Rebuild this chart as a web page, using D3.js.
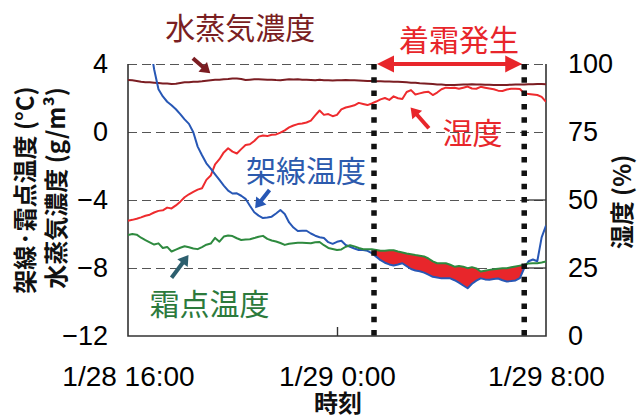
<!DOCTYPE html>
<html><head><meta charset="utf-8">
<script src="https://cdn.jsdelivr.net/npm/d3@7"></script>
<style>
body{margin:0;background:#fff;}
svg{display:block;}
</style></head><body>
<svg id="chart" width="638" height="420"></svg>
<script>
// Observation window: 1/28 16:00 to 1/29 8:00, sampled every 10 minutes
const startTime = new Date(2021, 0, 28, 16, 0);
const endTime = new Date(2021, 0, 29, 8, 0);
const times = d3.timeMinute.every(10).range(startTime, d3.timeMinute.offset(endTime, 1));

// Frost accretion period
const frostStart = new Date(2021, 0, 29, 1, 25);
const frostEnd = new Date(2021, 0, 29, 7, 10);

// Overhead wire temperature (°C)
const wireTemp = [
  9.0, 8.4, 7.8, 7.0, 6.2, 5.3, 3.69, 2.51, 2.09, 1.78,
  1.57, 1.34, 1.05, 0.74, 0.48, -0.01, -0.86, -1.37, -1.84, -2.15,
  -2.49, -2.82, -3.15, -3.45, -3.62, -3.61, -3.75, -3.93, -4.34, -4.72,
  -4.92, -5.06, -5.03, -4.98, -4.79, -4.59, -4.82, -5.32, -5.62, -5.82,
  -5.81, -5.81, -5.97, -6.10, -6.19, -6.24, -6.48, -6.58, -6.46, -6.40,
  -6.65, -6.75, -6.85, -6.94, -6.94, -6.99, -7.12, -7.33, -7.54, -7.69,
  -7.79, -7.85, -7.79, -7.72, -7.89, -8.06, -8.15, -8.19, -8.27, -8.39,
  -8.52, -8.56, -8.61, -8.61, -8.61, -8.72, -8.86, -9.03, -9.19, -8.93,
  -8.74, -8.61, -8.67, -8.69, -8.65, -8.62, -8.72, -8.79, -8.77, -8.73,
  -8.59, -8.0, -7.6, -7.5, -7.6, -6.2, -5.5
];

// Frost point temperature (°C)
const frostPoint = [
  -6.06, -6.00, -6.04, -6.22, -6.36, -6.49, -6.62, -6.55, -6.82, -6.76,
  -7.03, -6.92, -6.81, -6.72, -6.78, -6.85, -6.89, -6.77, -6.63, -6.56,
  -6.23, -6.45, -6.15, -6.09, -6.12, -6.25, -6.35, -6.33, -6.31, -6.24,
  -6.16, -6.11, -6.29, -6.38, -6.44, -6.53, -6.64, -6.57, -6.54, -6.52,
  -6.52, -6.53, -6.54, -6.49, -6.47, -6.66, -6.82, -6.88, -6.94, -6.91,
  -6.75, -6.66, -6.73, -6.82, -6.90, -6.90, -6.90, -6.94, -6.98, -6.99,
  -6.96, -6.96, -7.03, -7.09, -7.15, -7.19, -7.24, -7.28, -7.32, -7.44,
  -7.61, -7.72, -7.72, -7.72, -7.81, -7.92, -7.88, -7.92, -8.01, -7.95,
  -8.02, -8.21, -8.16, -8.11, -8.08, -8.04, -8.02, -8.02, -7.96, -7.91,
  -7.86, -7.81, -7.73, -7.72, -7.72, -7.68, -7.62
];

// Relative humidity (%)
const humidity = [
  42.4, 42.7, 43.1, 43.6, 44.2, 44.6, 45.4, 46.0, 46.2, 47.2,
  46.9, 48.0, 49.4, 51.0, 52.1, 53.0, 53.8, 54.3, 57.4, 59.0,
  63.1, 65.0, 67.5, 69.0, 67.8, 67.1, 68.7, 70.2, 70.5, 71.7,
  73.3, 73.7, 73.5, 74.0, 74.1, 74.8, 75.6, 76.7, 77.4, 77.9,
  78.1, 78.5, 79.2, 81.1, 82.9, 81.3, 81.6, 80.8, 81.3, 83.3,
  84.0, 84.4, 84.8, 85.7, 85.3, 84.9, 85.5, 86.2, 87.0, 87.5,
  86.8, 88.1, 87.4, 87.1, 89.7, 90.4, 88.8, 89.2, 89.6, 89.8,
  88.6, 89.5, 90.7, 91.3, 91.2, 91.3, 90.9, 91.3, 91.7, 91.0,
  90.9, 91.6, 91.3, 91.0, 90.7, 90.2, 90.1, 90.6, 90.9, 90.9,
  90.8, 89.2, 89.0, 88.8, 88.6, 87.9, 86.1
];

// Water vapour concentration (g/m³)
const vapour = [
  3.06, 3.04, 3.00, 2.95, 2.93, 2.92, 2.90, 2.88, 2.86, 2.85,
  2.83, 2.84, 2.88, 2.92, 2.93, 2.95, 2.96, 2.98, 3.02, 3.05,
  3.07, 3.08, 3.10, 3.12, 3.15, 3.14, 3.12, 3.06, 3.08, 3.10,
  3.10, 3.09, 3.07, 3.08, 3.06, 3.05, 3.08, 3.10, 3.09, 3.10,
  3.08, 3.07, 3.06, 3.05, 3.07, 3.05, 3.04, 3.03, 3.05, 3.04,
  3.06, 3.05, 3.04, 3.03, 3.02, 3.00, 3.00, 2.99, 2.98, 2.97,
  2.97, 2.96, 2.95, 2.94, 2.92, 2.90, 2.89, 2.87, 2.86, 2.84,
  2.82, 2.80, 2.79, 2.77, 2.76, 2.77, 2.78, 2.79, 2.80, 2.81,
  2.80, 2.79, 2.78, 2.78, 2.77, 2.76, 2.76, 2.77, 2.78, 2.79,
  2.80, 2.80, 2.81, 2.81, 2.82, 2.82, 2.81
];

// Axis ticks
const leftTicks = [4, 0, -4, -8, -12];
const rightTicks = [100, 75, 50, 25, 0];
const xTickTimes = [startTime, new Date(2021, 0, 29, 0, 0), endTime];
const xTickLabels = ["1/28 16:00", "1/29 0:00", "1/29 8:00"];

const W = 638, H = 420;
const margin = {top: 64, right: 92, bottom: 84, left: 128};
const width = W - margin.left - margin.right;
const height = H - margin.top - margin.bottom;

const colors = {
  wire: "#2757b5", frost: "#2e8a3f", hum: "#ee2b2e", vap: "#7b1d22",
  fill: "#e8262b", grid: "#555", frame: "#333"
};
const numFont = "'Liberation Sans', Arial, sans-serif";
const jpFont = "'Noto Sans CJK JP', 'Noto Sans', sans-serif";

const svg = d3.select("#chart");
const g = svg.append("g").attr("transform", `translate(${margin.left},${margin.top})`);

const x = d3.scaleTime().domain([startTime, endTime]).range([0, width]);
const yL = d3.scaleLinear().domain([-12, 4]).range([height, 0]);
const yR = d3.scaleLinear().domain([0, 100]).range([height, 0]);

// hours after 16:00 -> Date, for placing annotations in data space
const at = h => d3.timeMinute.offset(startTime, Math.round(h * 60));
const px = h => x(at(h));

svg.append("defs").append("clipPath").attr("id", "plot")
  .append("rect").attr("width", width).attr("height", height);

// dashed gridlines
const grid = g.append("g")
  .call(d3.axisLeft(yL).tickValues([4, 0, -4, -8]).tickSize(-width).tickFormat(""));
grid.select(".domain").remove();
grid.selectAll("line").attr("stroke", colors.grid).attr("stroke-width", 1.2)
  .attr("stroke-dasharray", "9,5");
// after the frost period the lower gridlines run solid to the frame
[-4, -8].forEach(v => {
  g.append("line").attr("x1", x(frostEnd)).attr("x2", width)
    .attr("y1", yL(v)).attr("y2", yL(v))
    .attr("stroke", colors.frame).attr("stroke-width", 1.3);
});

// frame (left, right, bottom solid)
g.append("path")
  .attr("d", `M0,0V${height}H${width}V0`)
  .attr("fill", "none").attr("stroke", colors.frame).attr("stroke-width", 1.6);

// inward tick at midnight
const midTick = g.append("g").attr("transform", `translate(0,${height})`)
  .call(d3.axisBottom(x).tickValues([xTickTimes[1]]).tickSize(-9).tickFormat(""));
midTick.select(".domain").remove();
midTick.selectAll("line").attr("stroke", colors.frame).attr("stroke-width", 1.4);

// left axis labels
const minus = d => d < 0 ? "\u2212" + Math.abs(d) : String(d);
const la = g.append("g")
  .call(d3.axisLeft(yL).tickValues(leftTicks).tickSize(0).tickPadding(20).tickFormat(minus));
la.select(".domain").remove();
la.selectAll("text").attr("font-family", numFont).attr("font-size", 27).attr("fill", "#000");

// right axis labels
const ra = g.append("g").attr("transform", `translate(${width},0)`)
  .call(d3.axisRight(yR).tickValues(rightTicks).tickSize(0).tickPadding(22));
ra.select(".domain").remove();
ra.selectAll("text").attr("font-family", numFont).attr("font-size", 27).attr("fill", "#000");

// bottom axis labels
const ba = g.append("g").attr("transform", `translate(0,${height})`)
  .call(d3.axisBottom(x).tickValues(xTickTimes).tickSize(0).tickPadding(30)
    .tickFormat((d, i) => xTickLabels[i]));
ba.select(".domain").remove();
ba.selectAll("text").attr("font-family", numFont).attr("font-size", 28).attr("fill", "#000");

// series
const rows = times.map((t, i) => ({t, w: wireTemp[i], f: frostPoint[i], h: humidity[i], v: vapour[i]}));
const plot = g.append("g").attr("clip-path", "url(#plot)");

// frost period band between wire temperature and frost point
function valueAt(t, key) {
  const i = d3.bisectRight(times, t) - 1;
  const a = rows[i], b = rows[Math.min(i + 1, rows.length - 1)];
  if (a === b) return a[key];
  const k = (t - a.t) / (b.t - a.t);
  return a[key] + (b[key] - a[key]) * k;
}
const band = [{t: frostStart, w: valueAt(frostStart, "w"), f: valueAt(frostStart, "f")}]
  .concat(rows.filter(d => d.t > frostStart && d.t < frostEnd))
  .concat([{t: frostEnd, w: valueAt(frostEnd, "w"), f: valueAt(frostEnd, "f")}]);
plot.append("path").datum(band)
  .attr("fill", colors.fill)
  .attr("d", d3.area().x(d => x(d.t)).y0(d => yL(d.w)).y1(d => yL(d.f)));

const lineOf = (scale, key) => d3.line().x(d => x(d.t)).y(d => scale(d[key]));
[[yR, "h", colors.hum], [yL, "v", colors.vap], [yL, "w", colors.wire], [yL, "f", colors.frost]]
  .forEach(([s, k, c]) => {
    plot.append("path").datum(rows).attr("fill", "none").attr("stroke", c)
      .attr("stroke-width", 2).attr("stroke-linejoin", "round").attr("d", lineOf(s, k)(rows));
  });

// frost period boundaries
[frostStart, frostEnd].forEach(t => {
  g.append("line").attr("x1", x(t)).attr("x2", x(t)).attr("y1", 0).attr("y2", height)
    .attr("stroke", "#111").attr("stroke-width", 5.5).attr("stroke-dasharray", "5.5,7.8");
});

// arrows
function arrow(x1, y1, x2, y2, color, sw, hl, hw) {
  const dx = x2 - x1, dy = y2 - y1, L = Math.hypot(dx, dy), ux = dx / L, uy = dy / L;
  const bx = x2 - ux * hl, by = y2 - uy * hl;
  g.append("line").attr("x1", x1).attr("y1", y1).attr("x2", bx + ux).attr("y2", by + uy)
    .attr("stroke", color).attr("stroke-width", sw);
  g.append("polygon")
    .attr("points", [[x2, y2], [bx - uy * hw, by + ux * hw], [bx + uy * hw, by - ux * hw]].map(p => p.join(",")).join(" "))
    .attr("fill", color);
}
// frost period span arrow
{
  const xa = x(frostStart) + 3, xb = x(frostEnd) - 2, yy = 0;
  g.append("line").attr("x1", xa + 14).attr("x2", xb - 14).attr("y1", yy).attr("y2", yy)
    .attr("stroke", colors.fill).attr("stroke-width", 4);
  g.append("polygon").attr("points", `${xa},${yy} ${xa + 17},${yy - 8.5} ${xa + 17},${yy + 8.5}`).attr("fill", colors.fill);
  g.append("polygon").attr("points", `${xb},${yy} ${xb - 17},${yy - 8.5} ${xb - 17},${yy + 8.5}`).attr("fill", colors.fill);
}
arrow(px(2.48), yL(4.34), px(3.15), yL(3.45), colors.vap, 4, 10, 6.5);
arrow(px(11.52), yL(0.22), px(10.82), yL(1.44), colors.fill, 4, 10, 6.5);
arrow(px(5.42), yL(-3.41), px(4.87), yL(-4.49), colors.wire, 4, 10, 6.5);
arrow(px(1.67), yL(-8.57), px(2.31), yL(-7.24), "#2d5f6e", 4, 10, 6.5);

// series labels
const label = (txt, h, v, color) => g.append("text").attr("x", px(h)).attr("y", yL(v))
  .attr("text-anchor", "middle").attr("font-family", jpFont).attr("font-size", 30)
  .attr("fill", color).text(txt);
label("水蒸気濃度", 4.3, 5.45, "#7a1e22");
label("着霜発生", 12.66, 4.75, colors.fill);
label("湿度", 13.19, -0.72, colors.fill);
label("架線温度", 6.82, -2.96, "#2c5aad");
label("霜点温度", 3.11, -10.78, "#2c7a3c");

// axis titles
const title = (txt, tx, ty, rot) => svg.append("text")
  .attr("transform", `translate(${tx},${ty}) rotate(${rot})`)
  .attr("text-anchor", "middle").attr("dominant-baseline", "central")
  .attr("font-family", jpFont).attr("font-weight", 700).attr("font-size", 24)
  .attr("fill", "#111").text(txt);
title("架線·霜点温度 (°C)", 23, 190, -90);
title("水蒸気濃度 (g/m³)", 54, 188, -90);
title("湿度 (%)", 620, 202, -90);
title("時刻", 338, 401, 0);
</script>
</body></html>
